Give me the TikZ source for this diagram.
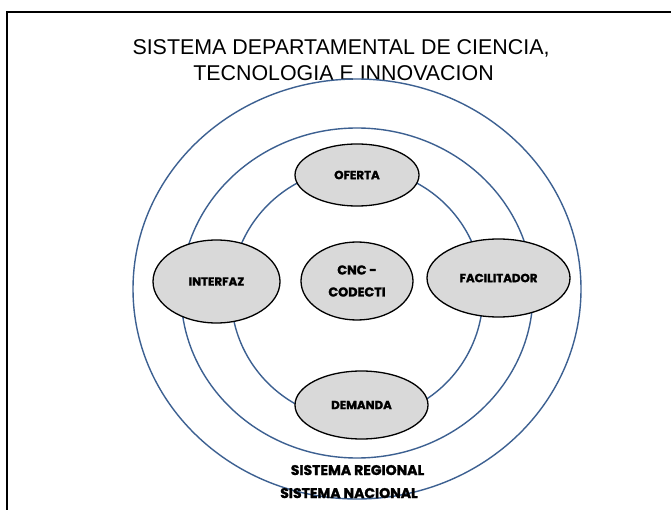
\documentclass[tikz,border=0pt]{standalone}
\usepackage{fontspec}
\setmainfont{Liberation Sans}
\newfontfamily\lblfont{Poppins}[BoldFeatures={FakeBold=1.6}]
\usetikzlibrary{shapes.geometric}
\definecolor{ringblue}{RGB}{60,96,145}
\definecolor{nodegray}{RGB}{217,217,217}
\tikzset{
  ring/.style={draw=ringblue, line width=1.4pt},
  actor/.style={ellipse, draw=black, line width=1.3pt, fill=nodegray, inner sep=0pt, align=center,
     font=\lblfont\bfseries\fontsize{11.8}{13}\selectfont},
  titletext/.style={font=\fontsize{21.4}{26}\selectfont, inner sep=0pt, anchor=base},
  syslabel/.style={font=\lblfont\bfseries\fontsize{14}{16}\selectfont, inner sep=0pt, anchor=base}
}
\begin{document}
\begin{tikzpicture}[x=1pt,y=-1pt]
\useasboundingbox (0,0) rectangle (671,510);
\fill[white] (0,0) rectangle (671,510);
\draw[line width=2.5pt] (7,510) -- (7,12) -- (671,12);
\node[titletext] (title1) at (341,54.5) {SISTEMA DEPARTAMENTAL DE CIENCIA,};
\node[titletext] (title2) at (343.5,80.5) {TECNOLOGIA E INNOVACION};
\draw[ring] (357,289) ellipse [x radius=224, y radius=210];
\draw[ring] (357,293) ellipse [x radius=176, y radius=165];
\draw[ring] (357,294) circle [radius=126];
\node[actor, minimum width=124pt, minimum height=62pt] (oferta) at (357,175) {OFERTA};
\node[actor, minimum width=112pt, minimum height=78pt, font=\lblfont\bfseries\fontsize{12.8}{22}\selectfont] (cnc) at (357,281) {CNC -\\CODECTI};
\node[actor, minimum width=127pt, minimum height=83pt] (interfaz) at (216.5,281.5) {INTERFAZ};
\node[actor, minimum width=143pt, minimum height=78pt] (facil) at (498.5,278) {FACILITADOR};
\node[actor, minimum width=133pt, minimum height=68pt] (demanda) at (361.5,405) {DEMANDA};
\node[syslabel] (regional) at (357.5,475) {SISTEMA REGIONAL};
\node[syslabel] (nacional) at (349,498) {SISTEMA NACIONAL};
\end{tikzpicture}
\end{document}
